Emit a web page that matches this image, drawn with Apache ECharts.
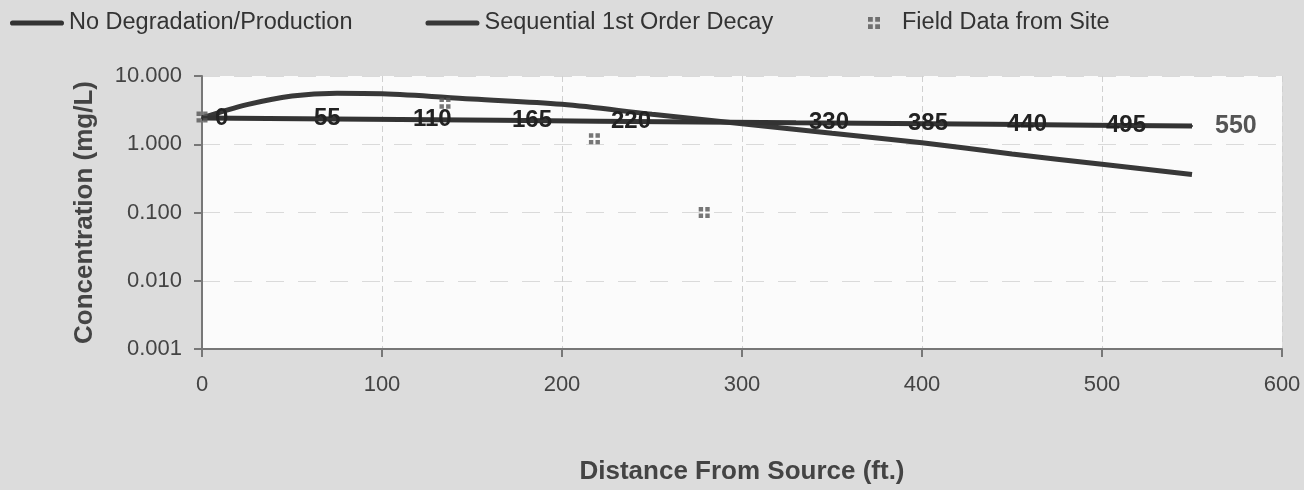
<!DOCTYPE html>
<html>
<head>
<meta charset="utf-8">
<script src="https://cdn.jsdelivr.net/npm/echarts@6/dist/echarts.min.js"></script>
<style>
html,body{margin:0;padding:0;background:#dcdcdc;}
#chart{width:1304px;height:490px;}
</style>
</head>
<body>
<div id="chart"></div>
<script>
// Data
const noDegX = [0, 55, 110, 165, 220, 275, 330, 385, 440, 495, 550];
const noDegY = [2.43, 2.37, 2.31, 2.24, 2.18, 2.12, 2.06, 2.01, 1.96, 1.90, 1.85];
const seqX = [0, 25, 50, 75, 100, 150, 200, 250, 300, 350, 400, 450, 500, 550];
const seqY = [2.43, 3.8, 5.1, 5.6, 5.5, 4.6, 3.85, 2.75, 2.0, 1.45, 1.05, 0.72, 0.51, 0.36];
const fieldX = [0, 135, 218, 279];
const fieldY = [2.5, 4.0, 1.2, 0.1];
const yTicks = [0.001, 0.01, 0.1, 1, 10];
const yTickLabels = ['0.001', '0.010', '0.100', '1.000', '10.000'];
const hiddenLabelX = [275];
const seriesNames = ['No Degradation/Production', 'Sequential 1st Order Decay', 'Field Data from Site'];

const FONT = '"Liberation Sans", Arial, sans-serif';
const lastX = noDegX[noDegX.length - 1];
const MARKER = 'path://M0,0h4v4h-4z M6,0h4v4h-4z M0,6h4v4h-4z M6,6h4v4h-4z';
const LINE_ICON = 'path://M2.5,0h47a2.5,2.5 0 0 1 0,5h-47a2.5,2.5 0 0 1 0,-5z';

const noDegData = noDegX.map((x, i) => {
  const item = { value: [x, noDegY[i]] };
  if (hiddenLabelX.indexOf(x) >= 0) item.label = { show: false };
  if (x === lastX) item.label = { color: '#555', distance: 22, fontSize: 25 };
  return item;
});

const legendText = { fontSize: 23.5, color: '#333', fontFamily: FONT };

const chart = echarts.init(document.getElementById('chart'), null, { renderer: 'canvas' });
chart.setOption({
  backgroundColor: '#dcdcdc',
  animation: false,
  textStyle: { fontFamily: FONT },
  legend: [
    {
      left: 5, top: 6,
      itemWidth: 54, itemHeight: 12, itemGap: 73,
      textStyle: legendText,
      data: [
        { name: seriesNames[0], icon: LINE_ICON },
        { name: seriesNames[1], icon: LINE_ICON }
      ]
    },
    {
      left: 863, top: 6,
      itemWidth: 30, itemHeight: 12,
      textStyle: Object.assign({}, legendText, { padding: [0, 0, 0, 8] }),
      data: [{ name: seriesNames[2], icon: MARKER }]
    }
  ],
  grid: {
    left: 202, right: 22, top: 76, bottom: 141,
    show: true, backgroundColor: '#fbfbfb', borderWidth: 0
  },
  xAxis: {
    type: 'value', min: 0, max: 600, interval: 100,
    name: 'Distance From Source (ft.)', nameLocation: 'middle', nameGap: 110,
    nameTextStyle: { fontSize: 26, fontWeight: 'bold', color: '#444', fontFamily: FONT },
    axisLine: { show: true, lineStyle: { color: '#777', width: 2 } },
    axisTick: { show: true, length: 8, lineStyle: { color: '#777', width: 2 } },
    axisLabel: { fontSize: 22, color: '#444', margin: 25, fontFamily: FONT },
    splitLine: { show: true, lineStyle: { color: '#d0d0d0', width: 1, type: [6, 4] } }
  },
  yAxis: {
    type: 'log', logBase: 10, min: 0.001, max: 10,
    name: 'Concentration (mg/L)', nameLocation: 'middle', nameGap: 104,
    nameTextStyle: { fontSize: 26, fontWeight: 'bold', color: '#444', fontFamily: FONT },
    axisLine: { show: true, lineStyle: { color: '#777', width: 2 } },
    axisTick: { show: true, length: 8, lineStyle: { color: '#777', width: 2 } },
    axisLabel: {
      fontSize: 22, color: '#444', margin: 20, fontFamily: FONT,
      formatter: v => {
        for (let i = 0; i < yTicks.length; i++) {
          if (Math.abs(Math.log10(v) - Math.log10(yTicks[i])) < 1e-6) return yTickLabels[i];
        }
        return '';
      }
    },
    splitLine: { show: true, lineStyle: { color: '#dadada', width: 1, type: [18, 14] } }
  },
  series: [
    {
      name: seriesNames[0], type: 'line',
      symbol: 'circle', symbolSize: 2, showSymbol: true, showAllSymbol: true,
      lineStyle: { color: '#333', width: 5 },
      itemStyle: { color: '#333' },
      data: noDegData,
      z: 3,
      labelLayout: { hideOverlap: false },
      label: {
        show: true, position: 'right', distance: 12,
        formatter: p => String(p.value[0]),
        fontSize: 24, fontWeight: 'bold', color: '#222', fontFamily: FONT
      }
    },
    {
      name: seriesNames[1], type: 'line', symbol: 'none', smooth: 0.35,
      lineStyle: { color: '#383838', width: 5 },
      itemStyle: { color: '#383838' },
      data: seqX.map((x, i) => [x, seqY[i]]),
      z: 2
    },
    {
      name: seriesNames[2], type: 'scatter',
      symbol: MARKER,
      symbolSize: 11,
      itemStyle: { color: '#555' },
      data: fieldX.map((x, i) => [x, fieldY[i]]),
      z: 4
    }
  ]
});
</script>
</body>
</html>
